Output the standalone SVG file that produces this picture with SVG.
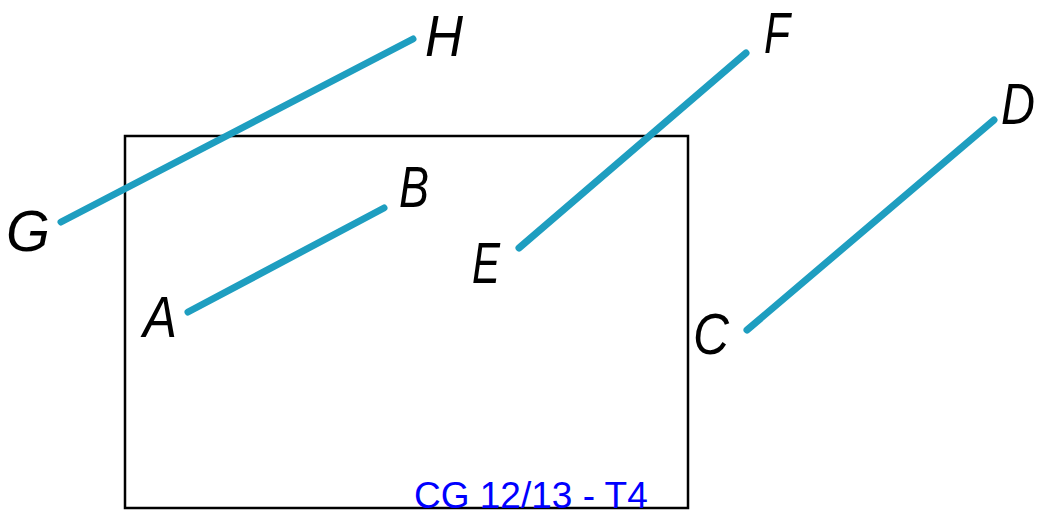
<svg xmlns="http://www.w3.org/2000/svg" width="1037" height="511" viewBox="0 0 1037 511">
<style>
.seg{stroke:#1e9ec0;stroke-width:7;stroke-linecap:round;fill:none}
.lbl{font-family:"Liberation Sans",Arial,sans-serif;font-style:italic;font-size:58px;fill:#000}
.cap{font-family:"Liberation Sans",Arial,sans-serif;font-size:37px;fill:#0000ff}
</style>
<rect width="1037" height="511" fill="#fff"/>
<g id="frame"><rect x="125" y="136" width="563" height="372" fill="none" stroke="#000" stroke-width="2.5"/></g>
<g id="connectors">
<line class="seg" x1="61" y1="222" x2="413" y2="39"/>
<line class="seg" x1="188" y1="312" x2="384" y2="208"/>
<line class="seg" x1="519" y1="248" x2="746" y2="53"/>
<line class="seg" x1="747" y1="330" x2="994" y2="120"/>
</g>
<g id="node-A"><text class="lbl" x="143" y="337" textLength="34" lengthAdjust="spacingAndGlyphs">A</text></g>
<g id="node-B"><text class="lbl" x="399" y="207" textLength="30" lengthAdjust="spacingAndGlyphs">B</text></g>
<g id="node-E"><text class="lbl" x="472" y="283" textLength="28" lengthAdjust="spacingAndGlyphs">E</text></g>
<g id="node-C"><text class="lbl" x="693" y="354" textLength="36" lengthAdjust="spacingAndGlyphs">C</text></g>
<g id="node-F"><text class="lbl" x="764" y="53" textLength="26" lengthAdjust="spacingAndGlyphs">F</text></g>
<g id="node-H"><text class="lbl" x="425" y="56" textLength="38" lengthAdjust="spacingAndGlyphs">H</text></g>
<g id="node-D"><text class="lbl" x="1001" y="124" textLength="34" lengthAdjust="spacingAndGlyphs">D</text></g>
<g id="node-G"><text class="lbl" x="6" y="251" textLength="44" lengthAdjust="spacingAndGlyphs">G</text></g>
<g id="caption"><text class="cap" x="414" y="508">CG 12/13 - T4</text></g>
</svg>
